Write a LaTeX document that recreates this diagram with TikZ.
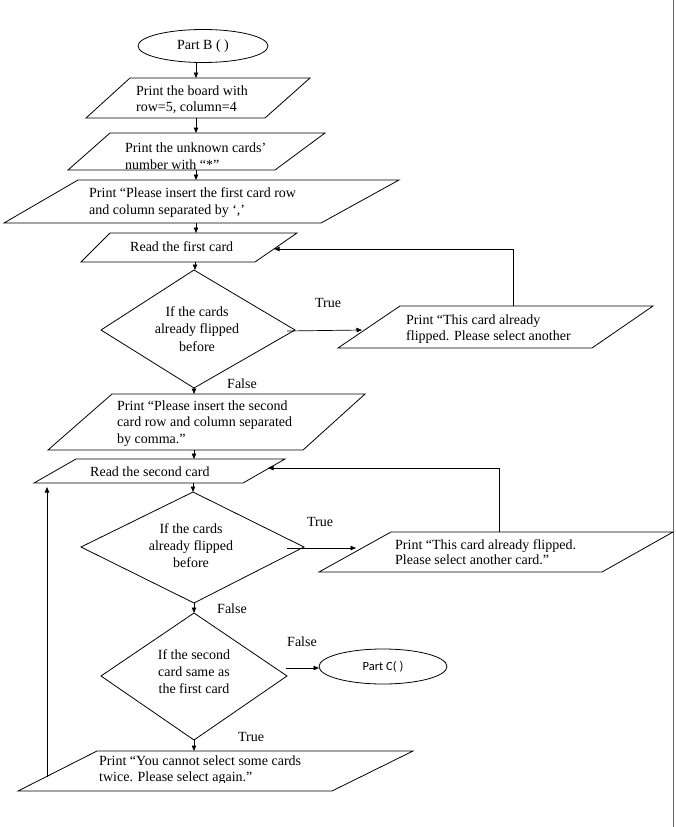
\documentclass[tikz,border=0pt]{standalone}
\usepackage{fontspec}
\setmainfont{Liberation Serif}
\newfontfamily\calibfont{Carlito}
\usetikzlibrary{arrows.meta,shapes.geometric}
\begin{document}
\begin{tikzpicture}[x=1pt,y=-1pt,
 box/.style={draw=black,line width=0.8pt,line join=miter},
 conn/.style={draw=black,line width=0.7pt,-{Triangle[length=5.5pt,width=4.5pt]}},
 txt/.style={anchor=base west,align=left,inner sep=0pt,font=\fontsize{14}{16.5}\selectfont},
 ctxt/.style={anchor=base,align=center,inner sep=0pt,font=\fontsize{14}{17.5}\selectfont},
 lbl/.style={inner sep=0pt,font=\fontsize{14}{16}\selectfont},
 term/.style={draw=black,line width=0.8pt,ellipse,inner sep=0pt}]
\useasboundingbox (0,0) rectangle (676,827);
\fill[white] (0,0) rectangle (676,827);
\draw[black!60,line width=1pt] (673.5,0) -- (673.5,827);

% start terminal
\node[term,minimum width=130pt,minimum height=33pt,font=\fontsize{14}{16}\selectfont] (start) at (203,46) {Part B ( )};

% Para 1 (node positions are the baseline of the last line)
\draw[box] (130,78) -- (310,78) -- (265,118) -- (86,118) -- cycle;
\node[txt] (t1) at (136,111.5) {Print the board with\\row=5, column=4};

% Para 2
\draw[box] (110,133) -- (325,133) -- (275,170) -- (68,170) -- cycle;
\begin{scope}
\clip (0,133) rectangle (676,168);
\node[txt] (t2) at (125,169.5) {Print the unknown cards’\\[1pt]number with “*”};
\end{scope}

% Para 3
\draw[box] (78,180) -- (399,180) -- (321,223) -- (4,223) -- cycle;
\node[txt] (t3) at (89,214) {Print “Please insert the first card row\\and column separated by ‘,’};

% Para 4
\draw[box] (110,233) -- (297,233) -- (255,262) -- (81,262) -- cycle;
\node[txt] (t4) at (130,251) {Read the first card};

% Decision 1
\draw[box] (194,270) coordinate (d1t) -- (295,330) coordinate (d1r) -- (194,388) coordinate (d1b) -- (101,330) coordinate (d1l) -- cycle;
\node[ctxt] (t5) at (197,351) {If the cards\\already flipped\\before};

% Para 5
\draw[box] (400,306) -- (653,306) -- (592,348) -- (338,348) -- cycle;
\node[txt,font=\fontsize{14}{16}\selectfont] (t6) at (406,340) {Print “This card already\\flipped. Please select another};

% Para 6
\draw[box] (112,394) -- (365,394) -- (303,450) -- (48,450) -- cycle;
\begin{scope}
\clip (0,394) rectangle (676,445);
\node[txt,font=\fontsize{14}{16.7}\selectfont] (t7) at (117,443.4) {Print “Please insert the second\\card row and column separated\\by comma.”};
\end{scope}

% Para 7
\draw[box] (76,459) -- (285,459) -- (243,483) -- (34,483) -- cycle;
\node[txt] (t8) at (90,476) {Read the second card};

% Decision 2
\draw[box] (193,492) coordinate (d2t) -- (304,547) coordinate (d2r) -- (194,603) coordinate (d2b) -- (81,547) coordinate (d2l) -- cycle;
\node[ctxt,font=\fontsize{14}{17}\selectfont] (t9) at (191,567.5) {If the cards\\already flipped\\before};

% Para 8
\draw[box] (391,532) -- (673,532) -- (602,572) -- (319,572) -- cycle;
\node[txt,font=\fontsize{14}{15.5}\selectfont] (t10) at (395,564.5) {Print “This card already flipped.\\Please select another card.”};

% Decision 3
\draw[box] (194,613) coordinate (d3t) -- (287,676) coordinate (d3r) -- (194,740) coordinate (d3b) -- (101,676) coordinate (d3l) -- cycle;
\node[ctxt,font=\fontsize{14}{17.2}\selectfont] (t11) at (194,693.9) {If the second\\card same as\\the first card};

% Part C terminal
\node[term,minimum width=128pt,minimum height=35pt,font=\calibfont\fontsize{12.5}{14}\selectfont] (partc) at (383,666.5) {Part C( )};

% Para 9
\draw[box] (97,751) -- (413,751) -- (332,791) -- (18,791) -- cycle;
\begin{scope}
\clip (0,751) rectangle (676,782);
\node[txt,font=\fontsize{14}{16.7}\selectfont] (t12) at (99,781.7) {Print “You cannot select some cards\\twice. Please select again.”};
\end{scope}

% labels
\node[lbl] (l1) at (328,303) {True};
\node[lbl] (l2) at (242,384) {False};
\node[lbl] (l3) at (320,522) {True};
\node[lbl] (l4) at (232,609) {False};
\node[lbl] (l5) at (302,642) {False};
\node[lbl] (l6) at (251,737) {True};

% connector end points
\coordinate (c0a) at (196,63);  \coordinate (c0b) at (196,78);
\coordinate (c1a) at (196,118); \coordinate (c1b) at (196,133);
\coordinate (c2a) at (196,170); \coordinate (c2b) at (196,180);
\coordinate (c3a) at (196,223); \coordinate (c3b) at (196,233);
\coordinate (c4a) at (195,262); \coordinate (c4b) at (195,270);
\coordinate (c5a) at (194,388); \coordinate (c5b) at (194,394);
\coordinate (c6a) at (194,450); \coordinate (c6b) at (194,459);
\coordinate (c7a) at (193,483); \coordinate (c7b) at (193,492);
\coordinate (c8a) at (194,603); \coordinate (c8b) at (194,613);
\coordinate (c9a) at (194,740); \coordinate (c9b) at (194,751);
\coordinate (h1a) at (287,331); \coordinate (h1b) at (362,330);
\coordinate (h2a) at (287,548); \coordinate (h2b) at (356,548);
\coordinate (h3a) at (286,668); \coordinate (h3b) at (319,668);
\coordinate (p5up) at (513,306); \coordinate (p4r) at (274,249);
\coordinate (p8up) at (499,532); \coordinate (p7r) at (268,468);
\coordinate (p9l) at (47,777);  \coordinate (p7b) at (47,487);

\draw[conn] (c0a) -- (c0b);
\draw[conn] (c1a) -- (c1b);
\draw[conn] (c2a) -- (c2b);
\draw[conn] (c3a) -- (c3b);
\draw[conn] (c4a) -- (c4b);
\draw[conn] (c5a) -- (c5b);
\draw[conn] (c6a) -- (c6b);
\draw[conn] (c7a) -- (c7b);
\draw[conn] (c8a) -- (c8b);
\draw[conn] (c9a) -- (c9b);
\draw[conn] (h1a) -- (h1b);
\draw[conn] (h2a) -- (h2b);
\draw[conn] (h3a) -- (h3b);
\draw[conn] (p5up) |- (p4r);
\draw[conn] (p8up) |- (p7r);
\draw[conn] (p9l) -- (p7b);
\end{tikzpicture}
\end{document}
